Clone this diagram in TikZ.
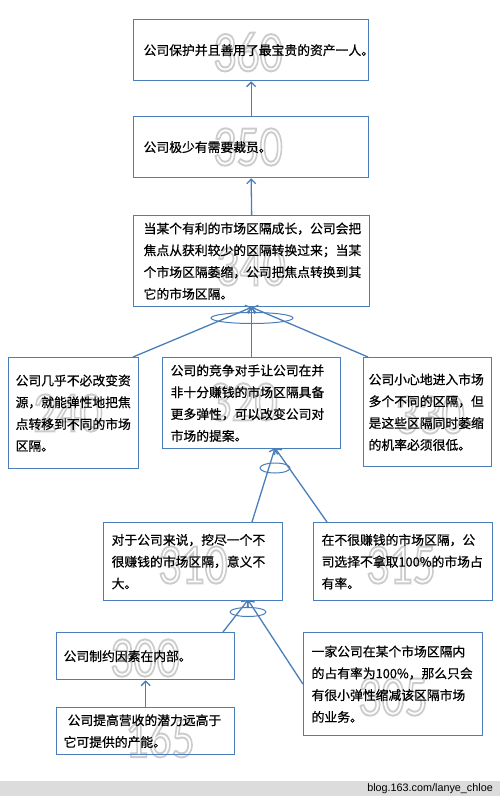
\documentclass[tikz,border=0pt]{standalone}
\usepackage{fontspec}
\usepackage{graphicx}
\usetikzlibrary{arrows.meta}
\newfontfamily\cjk[FakeBold=0.6]{Noto Sans CJK SC}
\newfontfamily\wmfont{Carlito}
\newfontfamily\footfont{Liberation Sans}
\definecolor{lineblue}{HTML}{4A7EBB}
\definecolor{footgray}{HTML}{DCDCDC}
\newcommand\wmtext[1]{\special{pdf:literal direct 2 Tr 2 w 0.8 G 1 g}#1\special{pdf:literal direct 0 Tr}}
\tikzset{
  box/.style={draw=lineblue, line width=1.3pt, anchor=north west,
    align=left, inner ysep=0pt, font={\cjk\fontsize{12.8pt}{21.8pt}\selectfont}},
  conn/.style={draw=lineblue, line width=1.3pt, -{Straight Barb[length=4.5pt,width=9pt]}},
  grp/.style={draw=lineblue, line width=1pt},
  wm/.style={text=white, inner sep=0pt, font={\wmfont\fontsize{57pt}{57pt}\selectfont}},
}
\begin{document}
\begin{tikzpicture}[x=1pt, y=-1pt]
\useasboundingbox (0,0) rectangle (500,796);
\fill[white] (0,0) rectangle (500,796);
\fill[footgray] (0,781) rectangle (500,796);
\node[anchor=east, inner sep=0pt, font={\footfont\fontsize{10.8pt}{12pt}\selectfont}] (foot) at (493,789) {blog.163.com/lanye\_chloe};

% watermarks (behind the box texts)
\node[wm] (w360) at (248,52) {\scalebox{0.8}[1]{\wmtext{360}}};
\node[wm] (w350) at (248,147) {\scalebox{0.8}[1]{\wmtext{350}}};
\node[wm] (w340) at (251,267) {\scalebox{0.8}[1]{\wmtext{340}}};
\node[wm] (w240) at (68,413) {\scalebox{0.8}[1]{\wmtext{240}}};
\node[wm] (w320) at (243,402) {\scalebox{0.8}[1]{\wmtext{320}}};
\node[wm] (w330) at (430,415) {\scalebox{0.8}[1]{\wmtext{330}}};
\node[wm] (w310) at (193,565) {\scalebox{0.8}[1]{\wmtext{310}}};
\node[wm] (w315) at (401,565) {\scalebox{0.8}[1]{\wmtext{315}}};
\node[wm] (w300) at (145,658) {\scalebox{0.8}[1]{\wmtext{300}}};
\node[wm] (w305) at (393,697) {\scalebox{0.8}[1]{\wmtext{305}}};
\node[wm] (w165) at (160,738) {\scalebox{0.8}[1]{\wmtext{165}}};

% boxes
\node[box, text width=215pt, inner xsep=10pt, minimum height=61pt] (b360) at (133,19) {公司保护并且善用了最宝贵的资产一人。};
\node[box, text width=215pt, inner xsep=10pt, minimum height=61pt] (b350) at (133,116) {公司极少有需要裁员。};
\node[box, text width=216pt, inner xsep=10pt, minimum height=91pt] (b340) at (133,215) {当某个有利的市场区隔成长，公司会把\\焦点从获利较少的区隔转换过来；当某\\个市场区隔萎缩，公司把焦点转换到其\\它的市场区隔。};
\node[box, text width=116pt, inner xsep=7pt, minimum height=111pt] (b240) at (8,357) {公司几乎不必改变资\\源，就能弹性地把焦\\点转移到不同的市场\\区隔。};
\node[box, text width=162pt, inner xsep=8pt, minimum height=91pt] (b320) at (162,357) {公司的竞争对手让公司在并\\非十分赚钱的市场区隔具备\\更多弹性，可以改变公司对\\市场的提案。};
\node[box, text width=118pt, inner xsep=5pt, minimum height=109pt] (b330) at (363,357) {公司小心地进入市场\\多个不同的区隔，但\\是这些区隔同时萎缩\\的机率必须很低。};
\node[box, text width=163pt, inner xsep=8pt, minimum height=78pt] (b310) at (103,522) {对于公司来说，挖尽一个不\\很赚钱的市场区隔，意义不\\大。};
\node[box, text width=163pt, inner xsep=8pt, minimum height=78pt] (b315) at (313,522) {在不很赚钱的市场区隔，公\\司选择不拿取100\%的市场占\\有率。};
\node[box, text width=164pt, inner xsep=7pt, minimum height=47pt] (b300) at (56,632) {公司制约因素在内部。};
\node[box, text width=163pt, inner xsep=8pt, minimum height=103pt] (b305) at (303,632) {一家公司在某个市场区隔内\\的占有率为100\%，那么只会\\有很小弹性缩减该区隔市场\\的业务。};
\node[box, text width=164pt, inner xsep=7pt, minimum height=47pt] (b165) at (56,707) {\hspace*{4pt}公司提高营收的潜力远高于\\它可提供的产能。};

% connection points
\coordinate (t240) at (133,357);
\coordinate (t330) at (368,357);
\coordinate (h320) at (275,448);
\coordinate (t310) at (252,522);
\coordinate (t315) at (327,522);
\coordinate (h310) at (248,600);
\coordinate (t300) at (223,632);

% connectors
\draw[conn] (b350.north) -- (b360.south);
\draw[conn] (b340.north) -- (b350.south);
\draw[conn] (t240) -- (b340.south);
\draw[conn] (b320.north) -- (b340.south);
\draw[conn] (t330) -- (b340.south);
\draw[conn] (t310) -- (h320);
\draw[conn] (t315) -- (h320);
\draw[conn] (t300) -- (h310);
\draw[conn] (b305.west) -- (h310);
\draw[conn] (b165.north) -- (b300.south);

% grouping ellipses
\draw[grp] (252,318) ellipse [x radius=41, y radius=5.5];
\draw[grp] (275,468) ellipse [x radius=15, y radius=5];
\draw[grp] (248,612) ellipse [x radius=18, y radius=4.5];
\end{tikzpicture}
\end{document}
